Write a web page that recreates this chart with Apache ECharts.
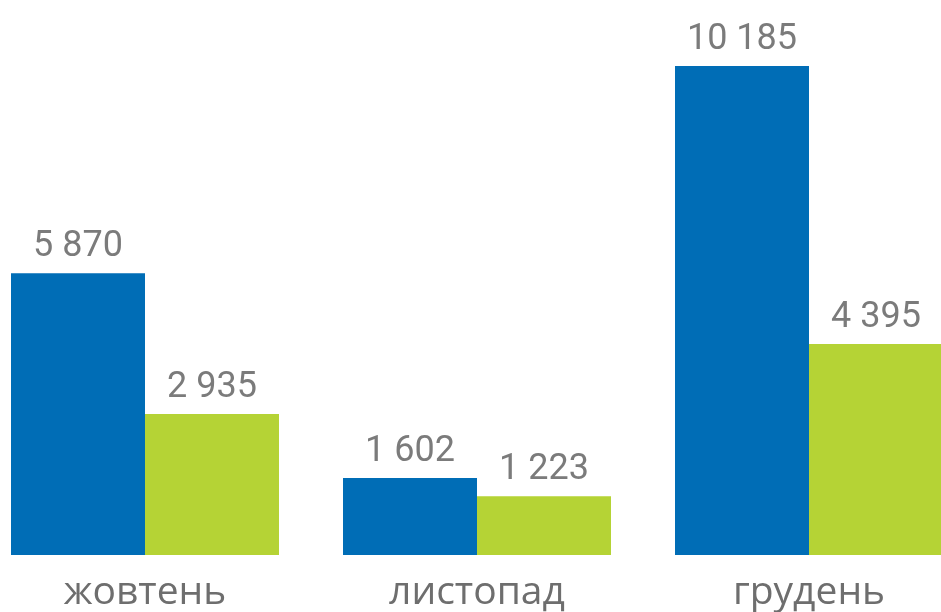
<!DOCTYPE html>
<html><head><meta charset="utf-8">
<script src="https://cdn.jsdelivr.net/npm/echarts@6/dist/echarts.min.js"></script>
<style>html,body{margin:0;padding:0;background:#fff;overflow:hidden;width:941px;height:612px}#c{position:absolute;left:-21px;top:0;width:996px;height:612px}</style>
</head><body><div id="c"></div>
<script>
const categories = ['жовтень', 'листопад', 'грудень'];
const seriesA = [5870, 1602, 10185];
const seriesB = [2935, 1223, 4395];

function fmt(v){ return String(v).replace(/\B(?=(\d{3})+(?!\d))/g, ' '); }
const labelStyle = {show:true, position:'top', distance:8, color:'#7b7b7b', fontSize:36, fontFamily:'Roboto', formatter:p=>fmt(p.value)};
const chart = echarts.init(document.getElementById('c'), null, {renderer:'canvas'});
chart.setOption({
  animation:false,
  grid:{left:0, right:0, top:27, bottom:55, containLabel:false},
  xAxis:{type:'category', data:categories, axisLine:{show:false}, axisTick:{show:false},
    axisLabel:{color:'#6e6e6e', fontSize:39, fontFamily:'Open Sans', margin:18}},
  yAxis:{type:'value', min:0, max:11000, show:false, splitLine:{show:false}},
  series:[
    {type:'bar', data:seriesA, barWidth:134, barGap:'0%', itemStyle:{color:'#006DB6'}, label:labelStyle},
    {type:'bar', data:seriesB, barWidth:134, barGap:'0%', itemStyle:{color:'#B5D335'}, label:labelStyle}
  ]
});
</script></body></html>
